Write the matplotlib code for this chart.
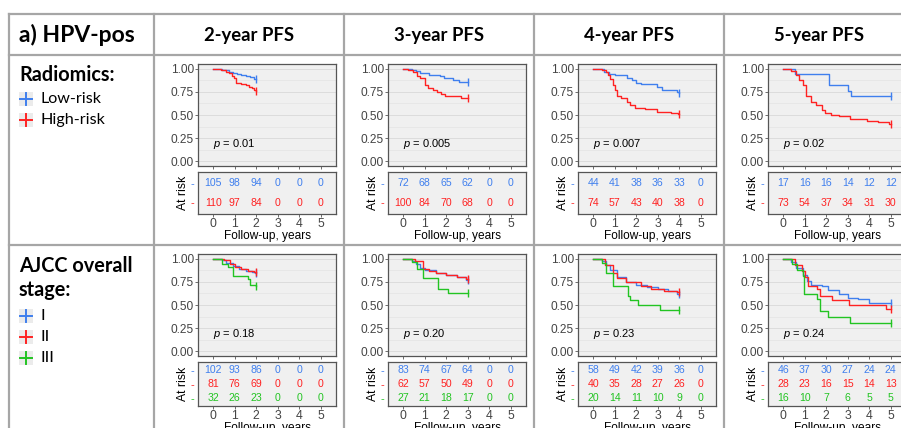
import matplotlib
matplotlib.use("Agg")
import matplotlib.pyplot as plt
from matplotlib.lines import Line2D
from matplotlib.patches import Rectangle

# colours of the strata
BLUE = "#3F7FEE"
RED = "#FF2222"
GREEN = "#22C422"

horizons = [2, 3, 4, 5]
col_titles = ["2-year PFS", "3-year PFS", "4-year PFS", "5-year PFS"]
risk_times = [0, 1, 2, 3, 4, 5]

# Radiomics curves (time in years, survival)
rad2_low = [(0, 1.0), (0.4, 0.99), (0.55, 0.98), (0.75, 0.96), (0.9, 0.95), (1.1, 0.94),
            (1.3, 0.93), (1.5, 0.92), (1.7, 0.91), (1.9, 0.89)]
rad2_high = [(0, 1.0), (0.35, 0.99), (0.5, 0.98), (0.6, 0.96), (0.75, 0.95), (0.85, 0.92),
             (0.95, 0.90), (1.05, 0.84), (1.3, 0.83), (1.5, 0.82), (1.65, 0.80), (1.8, 0.79),
             (1.9, 0.77), (1.97, 0.76)]
rad3_low = [(0, 1.0), (0.4, 0.99), (0.6, 0.97), (0.8, 0.95), (1.2, 0.93), (1.7, 0.92),
            (1.9, 0.90), (2.3, 0.88), (2.6, 0.86)]
rad3_high = [(0, 1.0), (0.23, 0.98), (0.45, 0.96), (0.65, 0.92), (0.8, 0.90), (1.0, 0.82),
             (1.15, 0.79), (1.4, 0.77), (1.55, 0.75), (1.75, 0.73), (1.95, 0.71), (2.4, 0.70),
             (2.7, 0.68)]
rad4_low = [(0, 1.0), (0.5, 0.96), (0.75, 0.94), (1.0, 0.93), (1.55, 0.90), (1.8, 0.875),
            (2.0, 0.85), (2.2, 0.83), (2.95, 0.80), (3.2, 0.775), (3.9, 0.75), (3.97, 0.74)]
rad4_high = [(0, 1.0), (0.4, 0.98), (0.6, 0.96), (0.7, 0.93), (0.78, 0.89), (0.93, 0.82),
             (1.0, 0.77), (1.09, 0.71), (1.3, 0.68), (1.55, 0.64), (1.7, 0.61), (1.95, 0.58),
             (2.4, 0.56), (2.95, 0.535), (3.6, 0.525), (3.95, 0.51)]
rad5_low = [(0, 1.0), (0.56, 0.94), (2.15, 0.82), (3.0, 0.76), (3.15, 0.70)]
rad5_high = [(0, 1.0), (0.36, 0.97), (0.6, 0.93), (0.75, 0.875), (0.9, 0.82), (1.06, 0.70),
             (1.3, 0.64), (1.53, 0.61), (1.8, 0.55), (1.95, 0.52), (2.2, 0.50), (2.6, 0.49),
             (3.1, 0.46), (3.9, 0.44), (4.4, 0.425), (4.9, 0.40)]

# AJCC stage curves
ajcc2_I = [(0, 1.0), (0.4, 0.98), (0.6, 0.95), (0.9, 0.92), (1.2, 0.89), (1.5, 0.87),
           (1.8, 0.86), (1.95, 0.84)]
ajcc2_II = [(0, 1.0), (0.5, 0.98), (0.8, 0.94), (1.0, 0.91), (1.3, 0.89), (1.6, 0.87),
            (1.9, 0.86)]
ajcc2_III = [(0, 1.0), (0.4, 0.94), (0.7, 0.91), (0.93, 0.81), (1.6, 0.78), (1.7, 0.72),
             (1.97, 0.70)]
ajcc3_I = [(0, 1.0), (0.4, 0.97), (0.6, 0.94), (0.8, 0.90), (1.0, 0.88), (1.5, 0.85),
           (2.0, 0.82), (2.5, 0.80), (2.9, 0.77)]
ajcc3_II = [(0, 1.0), (0.55, 0.97), (0.9, 0.89), (1.2, 0.87), (1.5, 0.85), (2.0, 0.82),
            (2.5, 0.80), (2.9, 0.78)]
ajcc3_III = [(0, 1.0), (0.4, 0.96), (0.65, 0.885), (0.93, 0.79), (1.6, 0.67), (2.1, 0.63)]
ajcc4_I = [(0, 1.0), (0.4, 0.97), (0.6, 0.93), (0.8, 0.88), (1.1, 0.80), (1.5, 0.75),
           (2.0, 0.72), (2.5, 0.69), (3.0, 0.67), (3.5, 0.65), (3.9, 0.62)]
ajcc4_II = [(0, 1.0), (0.55, 0.93), (0.9, 0.84), (1.1, 0.79), (1.5, 0.75), (2.2, 0.70),
            (2.7, 0.67), (3.3, 0.65), (3.9, 0.64)]
ajcc4_III = [(0, 1.0), (0.4, 0.95), (0.6, 0.85), (0.93, 0.70), (1.6, 0.60), (1.7, 0.55),
             (2.1, 0.50), (3.1, 0.45)]
ajcc5_I = [(0, 1.0), (0.35, 0.96), (0.6, 0.90), (0.9, 0.82), (1.1, 0.76), (1.3, 0.72),
           (1.8, 0.70), (2.1, 0.66), (2.6, 0.62), (3.0, 0.58), (3.5, 0.56), (4.0, 0.52)]
ajcc5_II = [(0, 1.0), (0.55, 0.93), (0.85, 0.87), (1.0, 0.80), (1.15, 0.70), (1.55, 0.67),
            (1.7, 0.60), (2.25, 0.55), (3.05, 0.50), (4.8, 0.46)]
ajcc5_III = [(0, 1.0), (0.4, 0.94), (0.63, 0.88), (0.9, 0.81), (0.98, 0.62), (1.58, 0.56),
             (1.7, 0.44), (2.1, 0.375), (3.1, 0.31)]

# numbers at risk
rad_risk_low = [[105, 98, 94, 0, 0, 0], [72, 68, 65, 62, 0, 0],
                [44, 41, 38, 36, 33, 0], [17, 16, 16, 14, 12, 12]]
rad_risk_high = [[110, 97, 84, 0, 0, 0], [100, 84, 70, 68, 0, 0],
                 [74, 57, 43, 40, 38, 0], [73, 54, 37, 34, 31, 30]]
ajcc_risk_I = [[102, 93, 86, 0, 0, 0], [83, 74, 67, 64, 0, 0],
               [58, 49, 42, 39, 36, 0], [46, 37, 30, 27, 24, 24]]
ajcc_risk_II = [[81, 76, 69, 0, 0, 0], [62, 57, 50, 49, 0, 0],
                [40, 35, 28, 27, 26, 0], [28, 23, 16, 15, 14, 13]]
ajcc_risk_III = [[32, 26, 23, 0, 0, 0], [27, 21, 18, 17, 0, 0],
                 [20, 14, 11, 10, 9, 0], [16, 10, 7, 6, 5, 5]]

rad_p = ["0.01", "0.005", "0.007", "0.02"]
ajcc_p = ["0.18", "0.20", "0.23", "0.24"]

rad_curves = [[rad2_low, rad2_high], [rad3_low, rad3_high],
              [rad4_low, rad4_high], [rad5_low, rad5_high]]
ajcc_curves = [[ajcc2_I, ajcc2_II, ajcc2_III], [ajcc3_I, ajcc3_II, ajcc3_III],
               [ajcc4_I, ajcc4_II, ajcc4_III], [ajcc5_I, ajcc5_II, ajcc5_III]]

plt.rcParams["font.family"] = "Liberation Sans"
plt.rcParams["mathtext.fontset"] = "custom"
plt.rcParams["mathtext.it"] = "Liberation Sans:italic"
plt.rcParams["mathtext.rm"] = "Liberation Sans"

W, H = 901, 428
fig = plt.figure(figsize=(W / 100, H / 100), dpi=100)
fig.patch.set_facecolor("white")


def box(x0, y0, x1, y1):
    return [x0 / W, 1 - y1 / H, (x1 - x0) / W, (y1 - y0) / H]


def fline(x0, y0, x1, y1, **kw):
    fig.add_artist(Line2D([x0 / W, x1 / W], [1 - y0 / H, 1 - y1 / H],
                          transform=fig.transFigure, **kw))


def ftext(x, y, s, **kw):
    fig.text(x / W, 1 - y / H, s, va="center", **kw)


def legend_icon(cx, cy, color):
    fig.add_artist(Rectangle(((cx - 7) / W, 1 - (cy + 7) / H), 14 / W, 14 / H,
                             transform=fig.transFigure, facecolor="#EBEBEB",
                             edgecolor="none"))
    fline(cx - 6, cy, cx + 6, cy, color=color, lw=1.4)
    fline(cx, cy - 6, cx, cy + 6, color=color, lw=1.4)


# table grid
grid_kw = dict(color="#A6A6A6", lw=1.6)
for yy in [14, 55, 245]:
    fline(9, yy, 901, yy, **grid_kw)
for xx in [9, 154, 344, 534, 724]:
    fline(xx, 14, xx, 428, **grid_kw)

head_font = ["Lato", "DejaVu Sans"]
ftext(19, 35, "a) HPV-pos", fontsize=16.5, fontweight="bold", family=head_font)
for i, t in enumerate(col_titles):
    ftext(154 + 190 * i + 95, 35, t, fontsize=13.3, fontweight="bold",
          family=head_font, ha="center")

ftext(19, 75, "Radiomics:", fontsize=14.3, fontweight="bold", family=head_font)
for cy, lab, c in [(99, "Low-risk", BLUE), (120, "High-risk", RED)]:
    legend_icon(26, cy, c)
    ftext(40, cy, lab, fontsize=11.6, family=head_font)

ftext(19, 266, "AJCC overall", fontsize=14.3, fontweight="bold", family=head_font)
ftext(19, 290, "stage:", fontsize=14.3, fontweight="bold", family=head_font)
for cy, lab, c in [(316, "I", BLUE), (337, "II", RED), (358, "III", GREEN)]:
    legend_icon(26, cy, c)
    ftext(40, cy, lab, fontsize=11.6, family=head_font)

XLIM = (-0.71, 5.71)
PANEL_BG = "#F0F0F0"


def km_panel(rect, curves, colors, horizon, pval):
    ax = fig.add_axes(rect)
    ax.set_facecolor(PANEL_BG)
    for crv, c in zip(curves, colors):
        ts = [p[0] for p in crv] + [horizon]
        ss = [p[1] for p in crv] + [crv[-1][1]]
        ax.plot(ts, ss, drawstyle="steps-post", color=c, lw=1.0)
        ax.plot([horizon], [ss[-1]], marker="|", ms=6, mew=1.0, color=c)
    ax.set_xlim(*XLIM)
    ax.set_ylim(-0.05, 1.05)
    ax.set_yticks([0, 0.25, 0.5, 0.75, 1.0])
    ax.set_yticklabels(["0.00", "0.25", "0.50", "0.75", "1.00"])
    ax.set_yticks([0.125, 0.375, 0.625, 0.875], minor=True)
    ax.set_xticks(risk_times)
    ax.set_xticklabels([])
    ax.tick_params(which="major", length=2, width=0.6, color="#555555",
                   labelsize=8.6, labelcolor="#444444", pad=1)
    ax.tick_params(which="minor", length=0)
    ax.grid(axis="y", which="major", color="#DCDCDC", lw=0.7)
    ax.grid(axis="y", which="minor", color="#E4E4E4", lw=0.5)
    ax.set_axisbelow(True)
    for s in ax.spines.values():
        s.set_color("#555555")
        s.set_linewidth(0.9)
    ax.text(0, 0.19, "$p$ = " + pval, fontsize=8, ha="left", va="center")
    return ax


def risk_panel(rect, rows, colors, h_idx):
    ax = fig.add_axes(rect)
    ax.set_facecolor(PANEL_BG)
    n = len(rows)
    ypos = list(range(n, 0, -1))
    for row, c, yv in zip(rows, colors, ypos):
        for t, v in zip(risk_times, row[h_idx]):
            ax.text(t, yv, str(v), color=c, fontsize=7.6, ha="center", va="center")
    ax.set_xlim(*XLIM)
    ax.set_ylim(0.4, n + 0.6)
    ax.set_xticks(risk_times)
    ax.set_yticks(ypos)
    ax.set_yticklabels(["-"] * n, fontsize=8)
    for lab, c in zip(ax.get_yticklabels(), colors):
        lab.set_color(c)
    ax.tick_params(axis="y", length=0, pad=3)
    ax.tick_params(axis="x", length=2, width=0.6, color="#555555", labelsize=8.8,
                   labelcolor="#444444", pad=1)
    for s in ax.spines.values():
        s.set_color("#555555")
        s.set_linewidth(0.9)
    ax.set_ylabel("At risk", fontsize=8.8, labelpad=1)
    ax.set_xlabel("Follow-up, years", fontsize=8.6, labelpad=0)
    return ax


for i, hz in enumerate(horizons):
    left = 154 + 190 * i + 44
    right = left + 138
    km_panel(box(left, 64, right, 166), rad_curves[i], [BLUE, RED], hz, rad_p[i])
    risk_panel(box(left, 172, right, 214), [rad_risk_low, rad_risk_high],
               [BLUE, RED], i)
    km_panel(box(left, 254, right, 356), ajcc_curves[i], [BLUE, RED, GREEN], hz,
             ajcc_p[i])
    risk_panel(box(left, 362, right, 406), [ajcc_risk_I, ajcc_risk_II, ajcc_risk_III],
               [BLUE, RED, GREEN], i)

fig.savefig("out.png", dpi=100)
